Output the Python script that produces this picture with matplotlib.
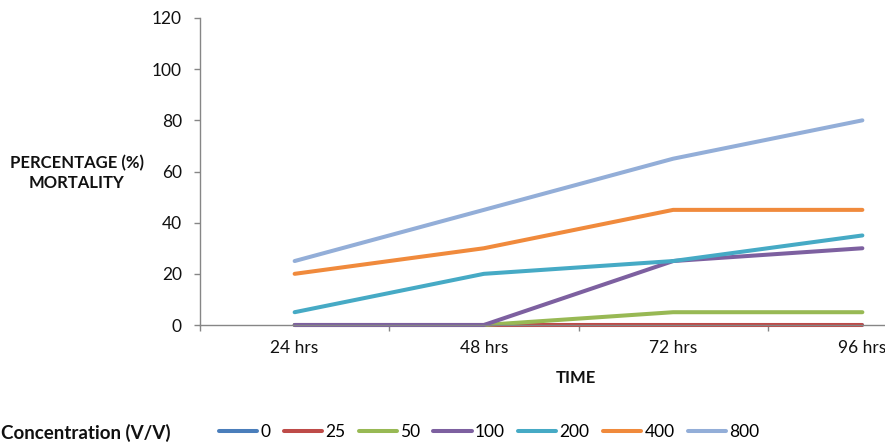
import matplotlib
matplotlib.use("Agg")
import matplotlib.pyplot as plt
from matplotlib.ticker import FixedLocator, NullFormatter, FixedFormatter

plt.rcParams['font.family'] = ['Lato', 'DejaVu Sans']

times = ["24 hrs", "48 hrs", "72 hrs", "96 hrs"]
concentrations = ["0", "25", "50", "100", "200", "400", "800"]
mort_0 = [0, 0, 0, 0]
mort_25 = [0, 0, 0, 0]
mort_50 = [0, 0, 5, 5]
mort_100 = [0, 0, 25, 30]
mort_200 = [5, 20, 25, 35]
mort_400 = [20, 30, 45, 45]
mort_800 = [25, 45, 65, 80]
series = [mort_0, mort_25, mort_50, mort_100, mort_200, mort_400, mort_800]
colors = ["#4A7EBB", "#BE4B48", "#98B954", "#7D60A0", "#46AAC5", "#F08A3C", "#93AED8"]

fig = plt.figure(figsize=(8.85, 4.45), dpi=100)
ax = fig.add_axes([200/885, 1-325/445, 757/885, 307/445])

x = list(range(len(times)))
for vals, lab, c in zip(series, concentrations, colors):
    ax.plot(x, vals, color=c, lw=2.9, label=lab, solid_capstyle='round', clip_on=False)

ax.set_xlim(-0.5, len(times) - 0.5)
ax.set_ylim(0, 120)
ax.set_yticks(range(0, 121, 20))

ax.xaxis.set_major_locator(FixedLocator([i - 0.5 for i in range(len(times) + 1)]))
ax.xaxis.set_major_formatter(NullFormatter())
ax.xaxis.set_minor_locator(FixedLocator(x))
ax.xaxis.set_minor_formatter(FixedFormatter(times))
ax.tick_params(axis='x', which='major', length=4, width=1, color='#868686', direction='out')
ax.tick_params(axis='x', which='minor', length=0, pad=11, labelsize=12.5, labelcolor='#111111')
ax.tick_params(axis='y', length=4, width=1, color='#868686', direction='out', pad=9,
               labelsize=12.5, labelcolor='#111111')

for s in ['top', 'right']:
    ax.spines[s].set_visible(False)
for s in ['left', 'bottom']:
    ax.spines[s].set_color('#868686')
    ax.spines[s].set_linewidth(1)

fig.text(77/885, 1-173/445, "PERCENTAGE (%)\nMORTALITY", ha='center', va='center',
         fontsize=12, fontweight='bold', linespacing=1.3, color='#111111')
fig.text(576/885, 1-378/445, "TIME", ha='center', va='center',
         fontsize=12, fontweight='bold', color='#111111')
fig.text(1/885, 1-433/445, "Concentration (V/V)", ha='left', va='center',
         fontsize=13.5, fontweight='bold', color='#111111')

handles, labels = ax.get_legend_handles_labels()
fig.legend(handles, labels, loc='center left', bbox_to_anchor=(219/885, 1-432/445),
           ncol=7, frameon=False, fontsize=12.5, handlelength=2.2, handletextpad=0.2,
           columnspacing=0.75, borderpad=0, borderaxespad=0)

fig.savefig("out.png", dpi=100)
